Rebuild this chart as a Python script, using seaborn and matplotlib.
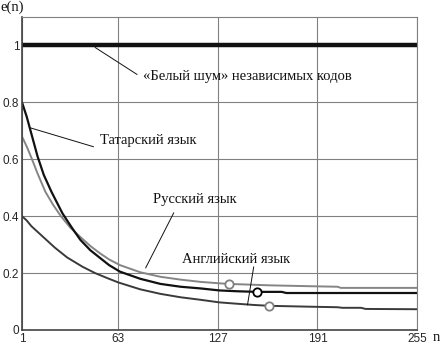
import pandas as pd
import matplotlib
matplotlib.use("Agg")
import matplotlib.pyplot as plt
import seaborn as sns

# Данные
n_white = [1, 255]
e_white = [1.0, 1.0]

n_tat = [1, 4, 7, 11, 15, 20, 27, 33, 38.5, 45, 51, 57, 64, 77, 90, 103, 116, 128, 140, 152, 168, 171, 255]
e_tat = [0.80, 0.75, 0.69, 0.61, 0.545, 0.485, 0.41, 0.36, 0.317, 0.28, 0.254, 0.228, 0.205, 0.18, 0.162,
         0.152, 0.146, 0.139, 0.136, 0.134, 0.134, 0.130, 0.130]

n_rus = [1, 4, 7, 11, 16, 21, 26, 32, 38.5, 45, 51, 57, 64, 77, 90, 103, 116, 128, 134, 160, 185, 204, 206, 255]
e_rus = [0.68, 0.645, 0.606, 0.55, 0.486, 0.44, 0.40, 0.36, 0.327, 0.295, 0.27, 0.248, 0.228, 0.203, 0.187,
         0.177, 0.169, 0.164, 0.162, 0.157, 0.154, 0.152, 0.148, 0.148]

n_eng = [1, 4, 7, 12, 17, 22, 30, 40, 48, 56, 63, 77, 90, 103, 116, 128, 140, 150, 160, 185, 204, 207, 219, 222, 255]
e_eng = [0.40, 0.385, 0.365, 0.34, 0.315, 0.29, 0.255, 0.222, 0.20, 0.182, 0.167, 0.143, 0.127, 0.115, 0.106,
         0.097, 0.092, 0.088, 0.085, 0.082, 0.080, 0.078, 0.078, 0.074, 0.073]

# точки-маркеры на кривых
mark_n = [134, 152, 160]
mark_e = [0.162, 0.134, 0.085]
mark_c = ["#808080", "#000000", "#808080"]

sns.set_style("white")
fig = plt.figure(figsize=(4.42, 3.44), dpi=100)
ax = fig.add_axes([0.0498, 0.0407, 0.8936, 0.9099])

sns.lineplot(x=n_white, y=e_white, ax=ax, color="#111111", linewidth=3.2)
sns.lineplot(x=n_rus, y=e_rus, ax=ax, color="#858585", linewidth=1.4)
sns.lineplot(x=n_eng, y=e_eng, ax=ax, color="#3a3a3a", linewidth=1.4)
sns.lineplot(x=n_tat, y=e_tat, ax=ax, color="#111111", linewidth=1.6)

for xm, ym, c in zip(mark_n, mark_e, mark_c):
    ax.plot(xm, ym, "o", ms=6, mfc="white", mec=c, mew=1.3, zorder=5)

ax.set_xlim(1, 255)
ax.set_ylim(0, 1.1)
ax.set_xticks([1, 63, 127, 191, 255])
ax.set_yticks([0, 0.2, 0.4, 0.6, 0.8, 1])
ax.set_yticklabels(["0", "0.2", "0.4", "0.6", "0.8", "1"])
ax.grid(True, color="#808080", linewidth=0.8)
ax.tick_params(length=0, labelsize=8.5, pad=2)
for lab in ax.get_xticklabels() + ax.get_yticklabels():
    lab.set_family("Liberation Sans")
for s in ["top", "right"]:
    ax.spines[s].set_color("#808080")
    ax.spines[s].set_linewidth(0.8)
for s in ["left", "bottom"]:
    ax.spines[s].set_color("#444444")
    ax.spines[s].set_linewidth(1.2)

serif = dict(family="Liberation Serif", fontsize=10.5, color="#111111")
ax.text(-0.056, 1.01, "e(n)", transform=ax.transAxes, ha="left", va="bottom", **serif)
ax.text(1.04, -0.035, "n", transform=ax.transAxes, ha="left", va="baseline", **serif)

line_kw = dict(arrowstyle="-", color="#111111", lw=0.7, shrinkA=0, shrinkB=0)

ax.annotate("", xy=(48, 0.993), xytext=(75, 0.898), arrowprops=line_kw)
ax.text(79, 0.89, "«Белый шум» независимых кодов", ha="left", va="center", **serif)

ax.annotate("", xy=(6, 0.711), xytext=(47, 0.644), arrowprops=line_kw)
ax.text(51, 0.665, "Татарский язык", ha="left", va="center", **serif)

ax.annotate("", xy=(80.5, 0.218), xytext=(98.6, 0.412), arrowprops=line_kw)
ax.text(85, 0.457, "Русский язык", ha="left", va="center", **serif)

ax.annotate("", xy=(146, 0.088), xytext=(150, 0.222), arrowprops=line_kw)
ax.text(104, 0.248, "Английский язык", ha="left", va="center", **serif)

fig.savefig("out.png", dpi=100)
